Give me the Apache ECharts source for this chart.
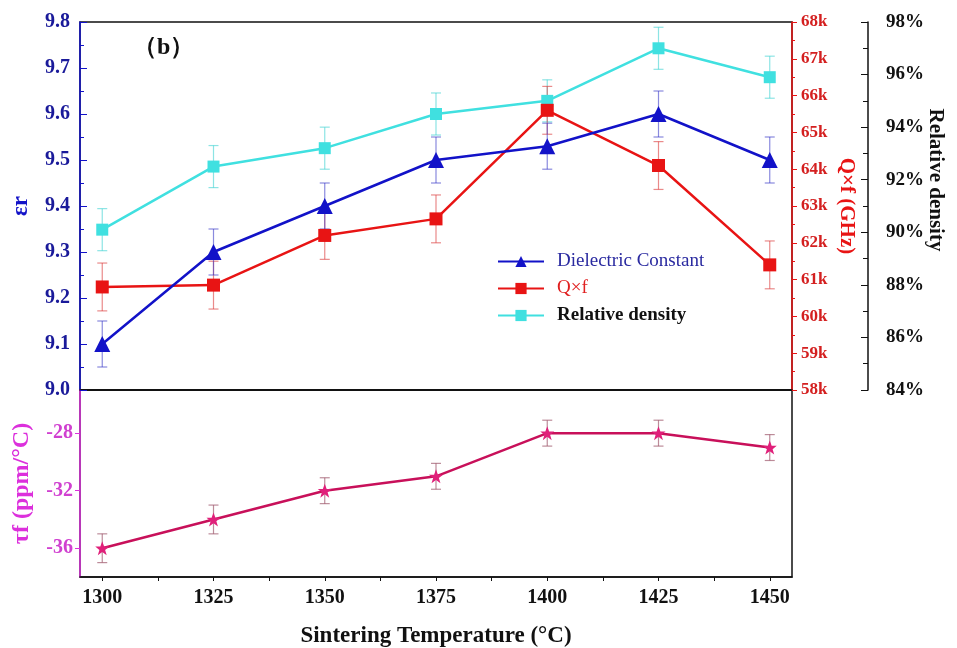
<!DOCTYPE html>
<html>
<head>
<meta charset="utf-8">
<script src="https://cdn.jsdelivr.net/npm/echarts@6/dist/echarts.min.js"></script>
<style>
  html, body { margin: 0; padding: 0; background: #fff; }
  #chart { width: 957px; height: 648px; }
</style>
</head>
<body>
<div id="chart"></div>
<script>
// sintering temperatures (°C)
const temps = [1300, 1325, 1350, 1375, 1400, 1425, 1450]
// dielectric constant
const dielectric = [9.10, 9.30, 9.40, 9.50, 9.53, 9.60, 9.50]
const dielectricErr = [0.05, 0.05, 0.05, 0.05, 0.05, 0.05, 0.05]
// Q x f (GHz)
const qf = [60800, 60850, 62200, 62650, 65600, 64100, 61400]
const qfErr = [650, 650, 650, 650, 650, 650, 650]
// relative density (%)
const density = [90.1, 92.5, 93.2, 94.5, 95.0, 97.0, 95.9]
const densityErr = [0.8, 0.8, 0.8, 0.8, 0.8, 0.8, 0.8]
// tau f (ppm/°C)
const tauF = [-36, -34, -32, -31, -28, -28, -29]
const tauFErr = [1.0, 1.0, 0.9, 0.9, 0.9, 0.9, 0.9]
const tauTicks = [-36, -32, -28]

const FONT = 'Liberation Serif'
const BLUE = '#1212c8'
const RED = '#e81414'
const CYAN = '#40e0e0'
const PINK = '#c8105a'
const MAGENTA = '#dc30dc'

const xTicks = []
temps.forEach((t, i) => {
  xTicks.push(t)
  if (i < temps.length - 1) xTicks.push((t + temps[i + 1]) / 2)
})

function pairs(ys) {
  return temps.map((t, i) => [t, ys[i]])
}

function errorSeries(values, errs, xi, yi, color) {
  return {
    type: 'custom',
    xAxisIndex: xi,
    yAxisIndex: yi,
    silent: true,
    z: 1,
    data: temps.map((t, i) => [t, values[i] - errs[i], values[i] + errs[i]]),
    renderItem(params, api) {
      const top = api.coord([api.value(0), api.value(2)])
      const bot = api.coord([api.value(0), api.value(1)])
      const w = 5
      const style = { stroke: color, lineWidth: 1.2 }
      return {
        type: 'group',
        children: [
          { type: 'line', shape: { x1: top[0], y1: top[1], x2: bot[0], y2: bot[1] }, style },
          { type: 'line', shape: { x1: top[0] - w, y1: top[1], x2: top[0] + w, y2: top[1] }, style },
          { type: 'line', shape: { x1: bot[0] - w, y1: bot[1], x2: bot[0] + w, y2: bot[1] }, style }
        ]
      }
    }
  }
}

const chart = echarts.init(document.getElementById('chart'))

const labelBase = { fontFamily: FONT, fontWeight: 'bold', fontSize: 20 }

chart.setOption({
  animation: false,
  textStyle: { fontFamily: FONT },
  title: {
    text: '（b）',
    left: 128,
    top: 31,
    textStyle: { fontFamily: FONT, fontWeight: 'bold', fontSize: 24, color: '#111' }
  },
  legend: {
    orient: 'vertical',
    left: 492,
    top: 247,
    itemWidth: 46,
    itemHeight: 14,
    itemGap: 8,
    textStyle: { fontFamily: FONT, fontSize: 19, padding: [0, 0, 0, 8] },
    data: [
      { name: 'Dielectric Constant', textStyle: { color: '#2a2aa0', fontWeight: 'normal' } },
      { name: 'Q×f', textStyle: { color: '#e02020', fontWeight: 'normal' } },
      { name: 'Relative density', textStyle: { color: '#111', fontWeight: 'bold' } }
    ]
  },
  grid: [
    { left: 80, right: 165, top: 22, height: 368, show: true, borderColor: '#111', borderWidth: 1.5, outerBoundsMode: 'none' },
    { left: 80, right: 165, top: 390, height: 187, show: true, borderColor: '#111', borderWidth: 1.5, outerBoundsMode: 'none' }
  ],
  xAxis: [
    {
      gridIndex: 0,
      type: 'value',
      min: 1295,
      max: 1455,
      axisLine: { lineStyle: { color: '#111', width: 1.5 } },
      axisTick: { show: false },
      axisLabel: { show: false },
      splitLine: { show: false }
    },
    {
      gridIndex: 1,
      type: 'value',
      min: 1295,
      max: 1455,
      name: 'Sintering Temperature (°C)',
      nameLocation: 'middle',
      nameGap: 48,
      nameTextStyle: { fontFamily: FONT, fontWeight: 'bold', fontSize: 23, color: '#111' },
      axisLine: { lineStyle: { color: '#111', width: 1.5 } },
      axisTick: { customValues: xTicks, length: 4, lineStyle: { color: '#111' } },
      axisLabel: { customValues: temps, margin: 11, color: '#111', ...labelBase, formatter: v => String(v) },
      splitLine: { show: false }
    }
  ],
  yAxis: [
    {
      gridIndex: 0,
      type: 'value',
      position: 'left',
      min: 9.0,
      max: 9.8,
      interval: 0.1,
      name: 'εr',
      nameLocation: 'middle',
      nameGap: 47,
      nameRotate: 90,
      nameTextStyle: { fontFamily: FONT, fontWeight: 'bold', fontSize: 23, color: BLUE },
      axisLine: { show: true, lineStyle: { color: BLUE, width: 1.5 } },
      axisTick: { inside: true, length: 7, lineStyle: { color: BLUE } },
      minorTick: { show: true, splitNumber: 2, length: 4, lineStyle: { color: BLUE } },
      axisLabel: { margin: 10, color: '#1a1a9a', ...labelBase, formatter: v => v.toFixed(1) },
      splitLine: { show: false }
    },
    {
      gridIndex: 0,
      type: 'value',
      position: 'right',
      min: 58000,
      max: 68000,
      interval: 1000,
      name: 'Q×f (GHz)',
      nameLocation: 'middle',
      nameGap: 44,
      nameRotate: -90,
      nameMoveOverlap: false,
      nameTextStyle: { fontFamily: FONT, fontWeight: 'bold', fontSize: 21, color: RED },
      axisLine: { show: true, lineStyle: { color: RED, width: 1.5 } },
      axisTick: { length: 5, lineStyle: { color: RED } },
      minorTick: { show: true, splitNumber: 2, length: 3, lineStyle: { color: RED } },
      axisLabel: { margin: 9, color: '#d42020', ...labelBase, fontSize: 17, formatter: v => (v / 1000) + 'k' },
      splitLine: { show: false }
    },
    {
      gridIndex: 0,
      type: 'value',
      position: 'right',
      offset: 76,
      min: 84,
      max: 98,
      interval: 2,
      name: 'Relative density',
      nameLocation: 'middle',
      nameGap: 57,
      nameRotate: -90,
      nameMoveOverlap: false,
      nameTextStyle: { fontFamily: FONT, fontWeight: 'bold', fontSize: 21, color: '#111', padding: [0, 52, 0, 0] },
      axisLine: { show: true, lineStyle: { color: '#111', width: 1.5 } },
      axisTick: { inside: true, length: 7, lineStyle: { color: '#111' } },
      minorTick: { show: true, splitNumber: 2, length: 5, lineStyle: { color: '#111' } },
      axisLabel: { margin: 18, color: '#111', ...labelBase, fontSize: 19, formatter: '{value}%' },
      splitLine: { show: false }
    },
    {
      gridIndex: 1,
      type: 'value',
      position: 'left',
      min: -38,
      max: -25,
      name: 'τf (ppm/°C)',
      nameLocation: 'middle',
      nameGap: 46,
      nameRotate: 90,
      nameTextStyle: { fontFamily: FONT, fontWeight: 'bold', fontSize: 24, color: MAGENTA },
      axisLine: { show: true, lineStyle: { color: MAGENTA, width: 1.5 } },
      axisTick: { customValues: tauTicks, length: 5, lineStyle: { color: MAGENTA } },
      axisLabel: { customValues: tauTicks, margin: 7, color: '#d040d0', ...labelBase },
      splitLine: { show: false }
    }
  ],
  series: [
    errorSeries(density, densityErr, 0, 2, 'rgba(64,210,210,0.6)'),
    errorSeries(qf, qfErr, 0, 1, 'rgba(220,60,60,0.6)'),
    errorSeries(dielectric, dielectricErr, 0, 0, 'rgba(60,60,200,0.6)'),
    errorSeries(tauF, tauFErr, 1, 3, 'rgba(160,90,110,0.7)'),
    {
      name: 'Relative density',
      type: 'line',
      xAxisIndex: 0,
      yAxisIndex: 2,
      data: pairs(density),
      symbol: 'rect',
      symbolSize: 12,
      itemStyle: { color: CYAN },
      lineStyle: { color: CYAN, width: 2.5 },
      z: 3
    },
    {
      name: 'Q×f',
      type: 'line',
      xAxisIndex: 0,
      yAxisIndex: 1,
      data: pairs(qf),
      symbol: 'rect',
      symbolSize: 13,
      itemStyle: { color: RED },
      lineStyle: { color: RED, width: 2.5 },
      z: 4
    },
    {
      name: 'Dielectric Constant',
      type: 'line',
      xAxisIndex: 0,
      yAxisIndex: 0,
      data: pairs(dielectric),
      symbol: 'triangle',
      symbolSize: 16,
      itemStyle: { color: BLUE },
      lineStyle: { color: BLUE, width: 2.5 },
      z: 5
    },
    {
      name: 'τf',
      type: 'line',
      xAxisIndex: 1,
      yAxisIndex: 3,
      data: pairs(tauF),
      symbol: 'path://M12,1 L15,9 L23,9 L16.5,14 L19,22 L12,17 L5,22 L7.5,14 L1,9 L9,9 Z',
      symbolSize: 14,
      itemStyle: { color: '#e0207a' },
      lineStyle: { color: PINK, width: 2.5 },
      z: 5
    }
  ]
})
</script>
</body>
</html>
